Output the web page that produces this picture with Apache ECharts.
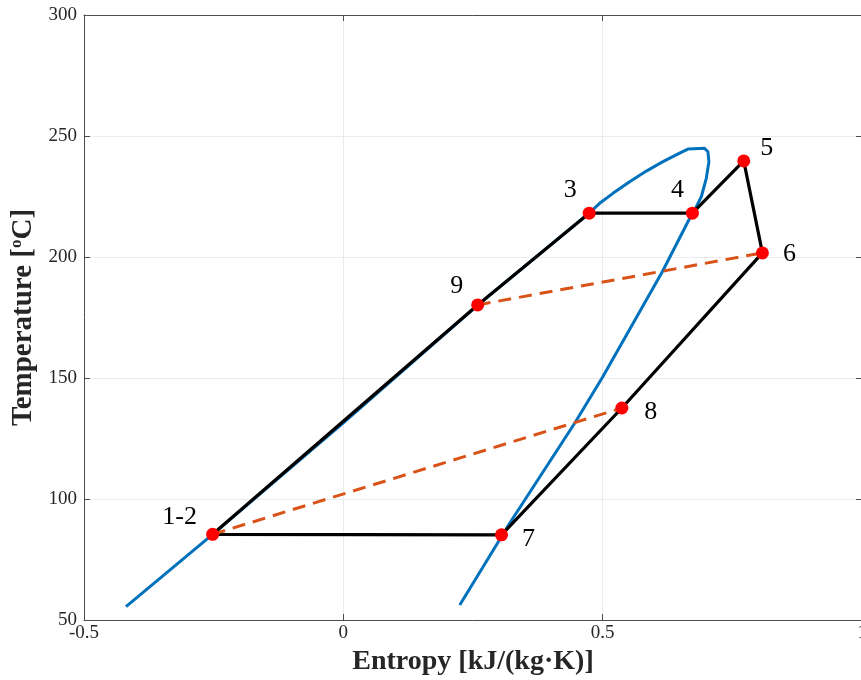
<!DOCTYPE html>
<html>
<head>
<meta charset="utf-8">
<script src="https://cdn.jsdelivr.net/npm/echarts@6/dist/echarts.min.js"></script>
<style>
  html, body { margin: 0; padding: 0; background: #fff; }
  #chart { width: 861px; height: 680px; }
</style>
</head>
<body>
<div id="chart"></div>
<script>
// saturation dome (entropy, temperature)
const satS = [-0.419, -0.252, 0.0, 0.2586, 0.4736, 0.4942, 0.5198, 0.552, 0.5842, 0.6162, 0.6484, 0.6644, 0.6965, 0.7029, 0.7048, 0.6998, 0.6902, 0.6773, 0.6728, 0.615, 0.5, 0.446, 0.321, 0.2245];
const satT = [55.5, 85.4, 131.5, 180.0, 218.1, 222.2, 226.3, 231.1, 235.5, 239.4, 242.9, 244.6, 244.9, 243.5, 239.4, 232.5, 224.9, 219.4, 218.1, 193.9, 150.4, 131.3, 90.1, 56.2];

// cycle states
const stateNames = ['1-2', '3', '4', '5', '6', '7', '8', '9'];
const stateS = [-0.252, 0.474, 0.673, 0.772, 0.808, 0.305, 0.537, 0.259];
const stateT = [85.4, 218.1, 218.1, 239.7, 201.7, 85.2, 137.6, 180.2];

// black cycle path: 1-2 -> 9 -> 3 -> 4 -> 5 -> 6 -> 8 -> 7 -> 1-2
const cycleOrder = ['1-2', '9', '3', '4', '5', '6', '8', '7', '1-2'];
// orange dashed regenerator lines
const regenA = ['1-2', '8'];
const regenB = ['9', '6'];

// label offsets (px) relative to each state marker
const labelOffsets = {
  '1-2': [-33, -17], '3': [-19, -23], '4': [-15, -23], '5': [23, -13],
  '6': [27, 1], '7': [27, 4], '8': [29, 4], '9': [-21, -19]
};

function pt(name) {
  const i = stateNames.indexOf(name);
  return [stateS[i], stateT[i]];
}

const satData = satS.map((s, i) => [s, satT[i]]);
const cycleData = cycleOrder.map(pt);

const serif = 'Liberation Serif';
const axisColor = '#4d4d4d';
const gridColor = '#ebebeb';

const chart = echarts.init(document.getElementById('chart'));

const option = {
  animation: false,
  backgroundColor: '#fff',
  grid: { left: 84, top: 15, width: 778, bottom: 60, show: false, containLabel: false, outerBoundsMode: 'none' },
  xAxis: [{
    type: 'value', min: -0.5, max: 1, interval: 0.5,
    name: 'Entropy [kJ/(kg·K)]', nameLocation: 'middle', nameGap: 24,
    nameTextStyle: { fontFamily: serif, fontWeight: 'bold', fontSize: 28, color: '#262626' },
    axisLine: { show: true, onZero: false, lineStyle: { color: axisColor, width: 1 } },
    axisTick: { inside: true, length: 6, lineStyle: { color: axisColor } },
    axisLabel: { fontFamily: serif, fontSize: 19, color: '#262626', margin: 4 },
    splitLine: { show: true, lineStyle: { color: gridColor, width: 1 } }
  }, {
    type: 'value', position: 'top', min: -0.5, max: 1, interval: 0.5,
    axisLine: { show: true, onZero: false, lineStyle: { color: axisColor, width: 1 } },
    axisTick: { inside: true, length: 6, lineStyle: { color: axisColor } },
    axisLabel: { show: false }, splitLine: { show: false }
  }],
  yAxis: [{
    type: 'value', min: 50, max: 300, interval: 50,
    name: 'Temperature [{sup|o}C]', nameLocation: 'middle', nameGap: 42,
    nameTextStyle: {
      fontFamily: serif, fontWeight: 'bold', fontSize: 29, color: '#262626',
      rich: { sup: { fontFamily: serif, fontWeight: 'bold', fontSize: 17, color: '#262626', padding: [0, 0, 12, 0] } }
    },
    axisLine: { show: true, onZero: false, lineStyle: { color: axisColor, width: 1 } },
    axisTick: { inside: true, length: 6, lineStyle: { color: axisColor } },
    axisLabel: { fontFamily: serif, fontSize: 19, color: '#262626', margin: 7 },
    splitLine: { show: true, lineStyle: { color: gridColor, width: 1 } }
  }, {
    type: 'value', position: 'right', min: 50, max: 300, interval: 50,
    axisLine: { show: true, onZero: false, lineStyle: { color: axisColor, width: 1 } },
    axisTick: { inside: true, length: 6, lineStyle: { color: axisColor } },
    axisLabel: { show: false }, splitLine: { show: false }
  }],
  series: [
    {
      type: 'line', data: satData, showSymbol: false, smooth: false,
      lineStyle: { color: '#0072BD', width: 3, join: 'round' }, z: 2
    },
    {
      type: 'line', data: cycleData, showSymbol: false,
      lineStyle: { color: '#000', width: 3.2 }, z: 3
    },
    {
      type: 'line', data: regenA.map(pt), showSymbol: false,
      lineStyle: { color: '#D95319', width: 3, type: [13, 8] }, z: 3
    },
    {
      type: 'line', data: regenB.map(pt), showSymbol: false,
      lineStyle: { color: '#D95319', width: 3, type: [13, 8] }, z: 3
    },
    {
      type: 'scatter', symbolSize: 13, z: 5,
      itemStyle: { color: '#ff0000', opacity: 1 },
      data: stateNames.map((n, i) => ({
        value: [stateS[i], stateT[i]],
        label: {
          show: true, formatter: n, position: 'inside', offset: labelOffsets[n],
          fontFamily: serif, fontSize: 26, color: '#000'
        }
      }))
    }
  ]
};

chart.setOption(option);
</script>
</body>
</html>
